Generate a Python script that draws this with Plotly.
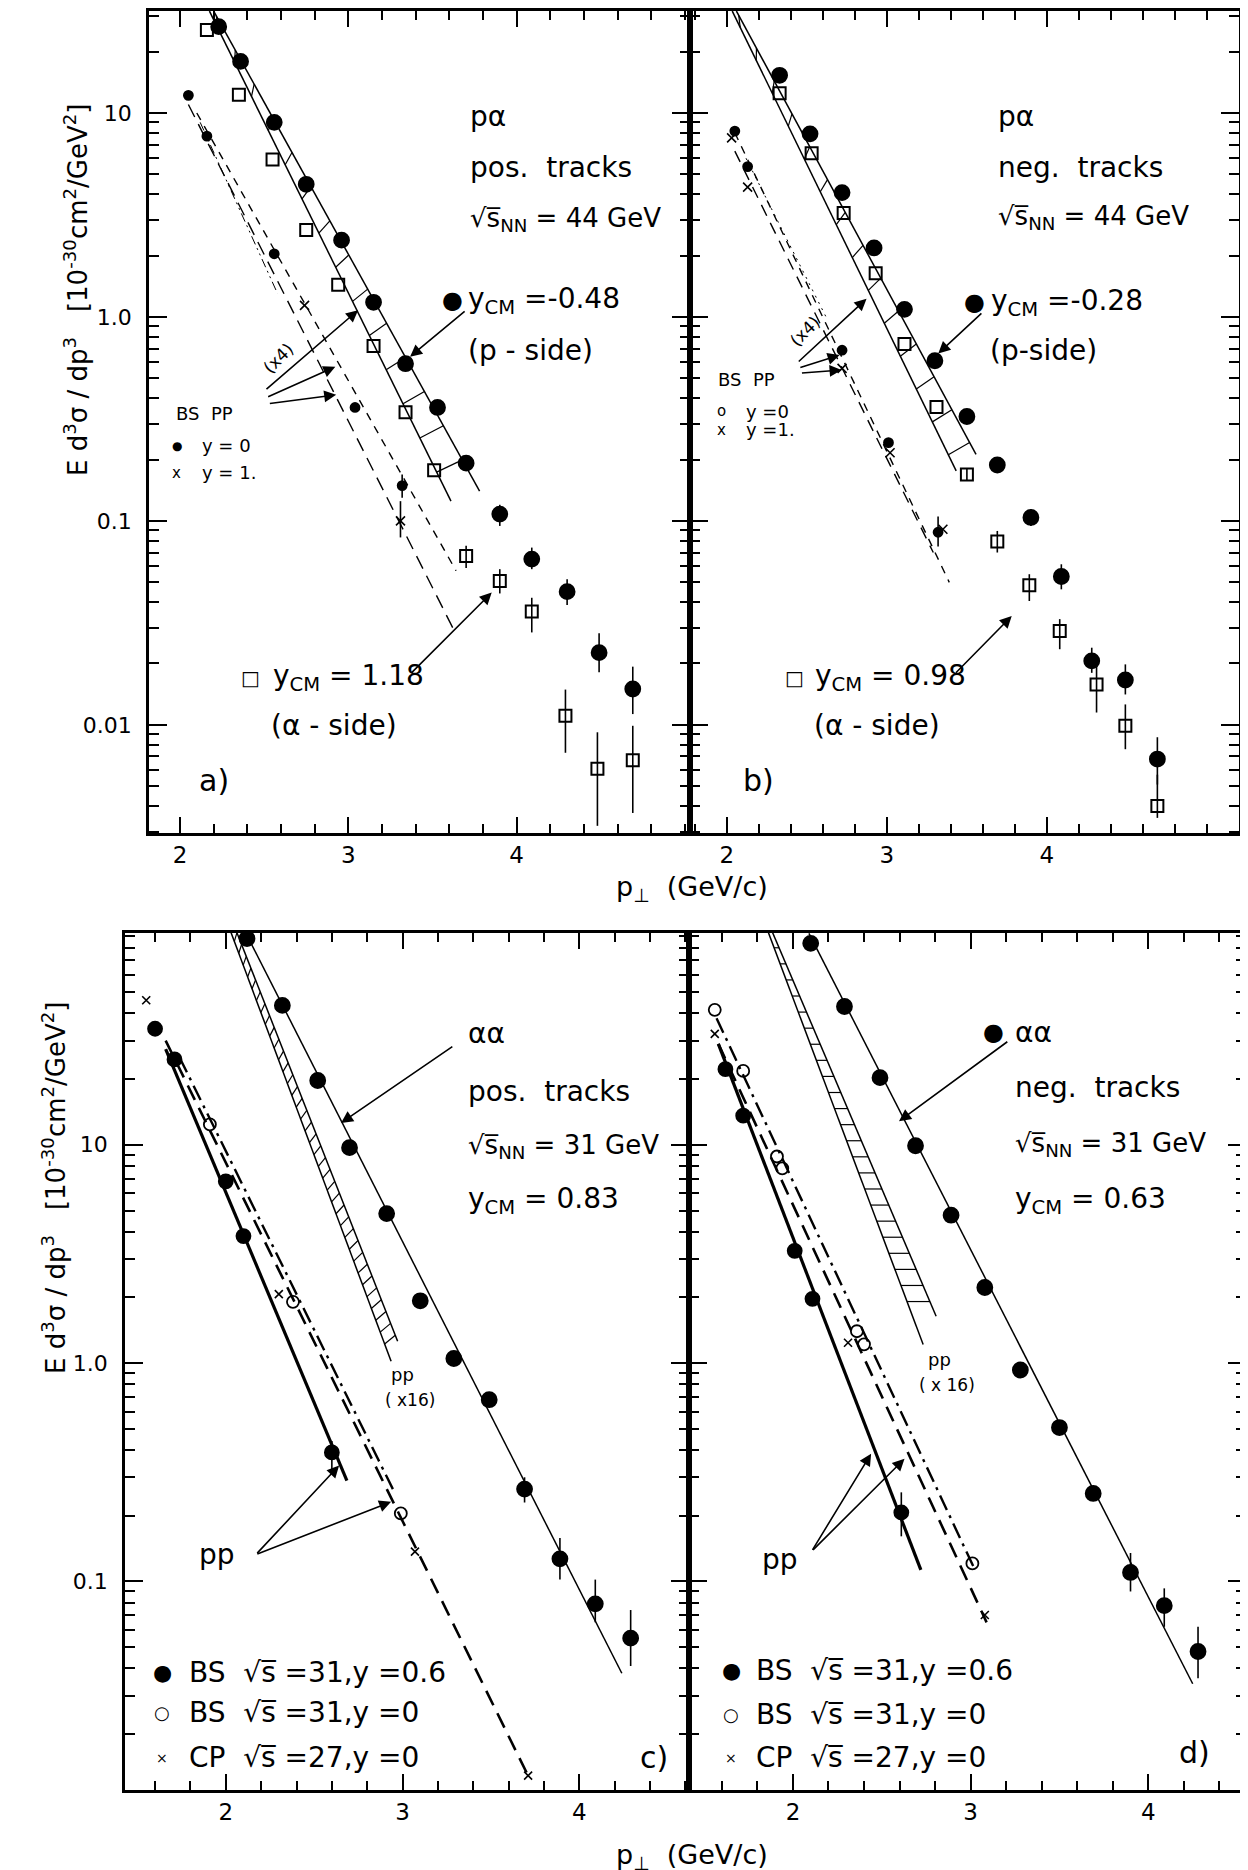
import math
import plotly.graph_objects as go

# ================= DATA =================
# ---- panel a : p-alpha, positive tracks, sqrt(s_NN)=44 GeV ----
a_pside_pt = [2.23, 2.36, 2.56, 2.75, 2.96, 3.15, 3.34, 3.53, 3.70, 3.90, 4.09, 4.30, 4.49, 4.69]
a_pside_y  = [26.5, 17.9, 9.0, 4.47, 2.38, 1.18, 0.59, 0.36, 0.192, 0.108, 0.065, 0.045, 0.0226, 0.0150]
a_pside_lo = [26.5, 17.9, 9.0, 4.47, 2.38, 1.18, 0.59, 0.36, 0.192, 0.0945, 0.058, 0.0387, 0.0181, 0.0113]
a_pside_hi = [26.5, 17.9, 9.0, 4.47, 2.38, 1.18, 0.59, 0.36, 0.192, 0.120, 0.074, 0.0518, 0.0281, 0.0193]

a_aside_pt = [2.16, 2.35, 2.55, 2.75, 2.94, 3.15, 3.34, 3.51, 3.70, 3.90, 4.09, 4.29, 4.48, 4.69]
a_aside_y  = [25.5, 12.3, 5.92, 2.67, 1.44, 0.72, 0.341, 0.177, 0.0673, 0.0508, 0.0360, 0.0111, 0.0061, 0.0067]
a_aside_lo = [25.5, 12.3, 5.92, 2.67, 1.44, 0.72, 0.341, 0.177, 0.0588, 0.0441, 0.0284, 0.0073, 0.0032, 0.0037]
a_aside_hi = [25.5, 12.3, 5.92, 2.67, 1.44, 0.72, 0.341, 0.177, 0.0755, 0.058, 0.042, 0.0149, 0.0092, 0.0099]

a_ppy0_pt = [2.05, 2.16, 2.56, 3.04, 3.32]
a_ppy0_y  = [12.2, 7.7, 2.04, 0.36, 0.149]
a_ppy0_lo = [12.2, 7.7, 2.04, 0.36, 0.130]
a_ppy0_hi = [12.2, 7.7, 2.04, 0.36, 0.169]
a_ppy1_pt = [2.74, 3.31]
a_ppy1_y  = [1.14, 0.100]
a_ppy1_lo = [1.14, 0.083]
a_ppy1_hi = [1.14, 0.125]

a_band_left_pt,  a_band_left_y  = [2.175, 3.61], [31.6, 0.125]
a_band_right_pt, a_band_right_y = [2.20, 3.78], [31.6, 0.140]
a_fit1_pt, a_fit1_y = [2.10, 3.64], [10.0, 0.057]
a_fit2_pt, a_fit2_y = [2.05, 3.62], [11.0, 0.030]
a_fit3_pt, a_fit3_y = [2.12, 2.58], [9.0, 1.3]

# ---- panel b : p-alpha, negative tracks, sqrt(s_NN)=44 GeV ----
b_pside_pt = [2.33, 2.52, 2.72, 2.92, 3.11, 3.30, 3.50, 3.69, 3.90, 4.09, 4.28, 4.49, 4.69]
b_pside_y  = [15.3, 7.9, 4.07, 2.18, 1.09, 0.61, 0.325, 0.188, 0.104, 0.0534, 0.0206, 0.0166, 0.0068]
b_pside_lo = [15.3, 7.9, 4.07, 2.18, 1.09, 0.61, 0.325, 0.188, 0.0945, 0.0462, 0.0180, 0.0141, 0.0051]
b_pside_hi = [15.3, 7.9, 4.07, 2.18, 1.09, 0.61, 0.325, 0.188, 0.114, 0.0613, 0.0239, 0.0198, 0.0087]

b_aside_pt = [2.33, 2.53, 2.73, 2.93, 3.11, 3.31, 3.50, 3.69, 3.89, 4.08, 4.31, 4.49, 4.69]
b_aside_y  = [12.5, 6.34, 3.23, 1.64, 0.736, 0.362, 0.169, 0.0792, 0.0484, 0.0289, 0.0158, 0.0099, 0.0040]
b_aside_lo = [12.5, 6.34, 3.23, 1.64, 0.736, 0.362, 0.158, 0.0700, 0.0405, 0.0235, 0.0115, 0.0076, 0.0035]
b_aside_hi = [12.5, 6.34, 3.23, 1.64, 0.736, 0.362, 0.181, 0.0893, 0.0548, 0.0330, 0.0195, 0.0126, 0.0057]

b_ppy0_pt = [2.05, 2.13, 2.72, 3.01, 3.32]
b_ppy0_y  = [8.15, 5.46, 0.687, 0.242, 0.088]
b_ppy0_lo = [8.15, 5.46, 0.687, 0.242, 0.075]
b_ppy0_hi = [8.15, 5.46, 0.687, 0.242, 0.105]
b_ppy1_pt = [2.03, 2.13, 2.72, 3.02, 3.35]
b_ppy1_y  = [7.55, 4.33, 0.56, 0.216, 0.091]

b_band_left_pt,  b_band_left_y  = [2.034, 3.433], [31.6, 0.176]
b_band_right_pt, b_band_right_y = [2.06, 3.557], [31.6, 0.212]
b_fit1_pt, b_fit1_y = [2.05, 3.39], [8.0, 0.050]
b_fit2_pt, b_fit2_y = [2.05, 3.29], [6.5, 0.070]
b_fit3_pt, b_fit3_y = [2.12, 2.62], [6.0, 1.0]

# ---- panel c : alpha-alpha, positive tracks, sqrt(s_NN)=31 GeV ----
c_aa_pt = [2.12, 2.32, 2.52, 2.70, 2.91, 3.10, 3.29, 3.49, 3.69, 3.89, 4.09, 4.29]
c_aa_y  = [88.0, 43.5, 19.7, 9.7, 4.84, 1.93, 1.05, 0.68, 0.265, 0.127, 0.079, 0.055]
c_aa_lo = [88.0, 43.5, 19.7, 9.7, 4.84, 1.93, 1.05, 0.68, 0.23, 0.102, 0.065, 0.041]
c_aa_hi = [88.0, 43.5, 19.7, 9.7, 4.84, 1.93, 1.05, 0.68, 0.30, 0.158, 0.102, 0.074]
c_bs06_pt = [1.60, 1.71, 2.00, 2.10, 2.60]
c_bs06_y  = [34.0, 24.6, 6.8, 3.82, 0.39]
c_bs06_lo = [34.0, 24.6, 6.8, 3.82, 0.32]
c_bs06_hi = [34.0, 24.6, 6.8, 3.82, 0.44]
c_bs0_pt = [1.91, 2.38, 2.99]
c_bs0_y  = [12.4, 1.91, 0.205]
c_cp_pt = [1.55, 2.30, 3.07, 3.71]
c_cp_y  = [45.9, 2.07, 0.137, 0.0129]

c_aafit_pt, c_aafit_y = [2.10, 4.24], [98.0, 0.038]
c_band_left_pt,  c_band_left_y  = [2.011, 2.935], [103.0, 1.02]
c_band_right_pt, c_band_right_y = [2.043, 2.972], [103.0, 1.26]
c_pp_solid_pt, c_pp_solid_y = [1.66, 2.685], [27.4, 0.29]
c_pp_dash_pt, c_pp_dash_y = [1.66, 3.71], [30.0, 0.0129]
c_pp_dd_pt, c_pp_dd_y = [1.74, 2.95], [25.0, 0.26]

# ---- panel d : alpha-alpha, negative tracks, sqrt(s_NN)=31 GeV ----
d_aa_pt = [2.10, 2.29, 2.49, 2.69, 2.89, 3.08, 3.28, 3.50, 3.69, 3.90, 4.09, 4.28]
d_aa_y  = [83.7, 43.0, 20.3, 9.9, 4.76, 2.22, 0.93, 0.507, 0.253, 0.110, 0.0775, 0.0478]
d_aa_lo = [83.7, 43.0, 20.3, 9.9, 4.76, 2.22, 0.93, 0.507, 0.253, 0.090, 0.062, 0.036]
d_aa_hi = [83.7, 43.0, 20.3, 9.9, 4.76, 2.22, 0.93, 0.507, 0.253, 0.135, 0.093, 0.062]
d_bs06_pt = [1.62, 1.72, 2.01, 2.11, 2.61]
d_bs06_y  = [22.2, 13.6, 3.27, 1.97, 0.207]
d_bs06_lo = [22.2, 13.6, 3.27, 1.97, 0.161]
d_bs06_hi = [22.2, 13.6, 3.27, 1.97, 0.256]
d_bs0_pt = [1.56, 1.72, 1.91, 1.94, 2.36, 2.40, 3.01]
d_bs0_y  = [41.5, 21.8, 8.84, 7.8, 1.40, 1.22, 0.121]
d_cp_pt = [1.56, 2.31, 3.08]
d_cp_y  = [32.2, 1.24, 0.0702]

d_aafit_pt, d_aafit_y = [2.09, 4.25], [93.0, 0.034]
d_band_left_pt,  d_band_left_y  = [1.843, 2.733], [103.0, 1.216]
d_band_right_pt, d_band_right_y = [1.864, 2.806], [103.0, 1.64]
d_pp_solid_pt, d_pp_solid_y = [1.58, 2.72], [29.0, 0.113]
d_pp_dash_pt, d_pp_dash_y = [1.58, 3.09], [29.0, 0.065]
d_pp_dd_pt, d_pp_dd_y = [1.57, 3.02], [38.0, 0.115]

# tick labels
x_tickvals = [2, 3, 4]
x_ticktext = ["2", "3", "4"]
top_y_tickvals = [0.01, 0.1, 1, 10]
top_y_ticktext = ["0.01", "0.1", "1.0", "10"]
bot_y_tickvals = [0.1, 1, 10]
bot_y_ticktext = ["0.1", "1.0", "10"]

# ================= FIGURE =================
FONT = "DejaVu Sans"
W, H = 1248, 1870
BIG = 28
MID = 26
fig = go.Figure()


def errs(y, lo, hi):
    return [h - v for v, h in zip(y, hi)], [v - l for v, l in zip(y, lo)]


def pts(ax, pt, y, symbol, size, lo=None, hi=None, lw=1.8):
    kw = {}
    if lo is not None:
        plus, minus = errs(y, lo, hi)
        kw["error_y"] = dict(type="data", symmetric=False, array=plus, arrayminus=minus,
                             color="black", thickness=1.6, width=0)
    fig.add_trace(go.Scatter(x=pt, y=y, mode="markers", xaxis="x" + ax, yaxis="y" + ax,
                             marker=dict(symbol=symbol, size=size, color="black",
                                         line=dict(color="black", width=lw)),
                             hoverinfo="skip", **kw))


def line(ax, pt, y, width=1.5, dash="solid"):
    fig.add_trace(go.Scatter(x=pt, y=y, mode="lines", xaxis="x" + ax, yaxis="y" + ax,
                             line=dict(color="black", width=width, dash=dash), hoverinfo="skip"))


def band(ax, lpt, ly, rpt, ry, step, rise):
    line(ax, lpt, ly)
    line(ax, rpt, ry)
    l0, l1 = math.log10(ly[0]), math.log10(ly[1])
    r0, r1 = math.log10(ry[0]), math.log10(ry[1])
    xs, ys = [], []
    p = lpt[0] + step / 2
    while p < lpt[1]:
        lyv = l0 + (l1 - l0) * (p - lpt[0]) / (lpt[1] - lpt[0])
        ryv = lyv + rise
        pr = rpt[0] + (rpt[1] - rpt[0]) * (ryv - r0) / (r1 - r0)
        if rpt[0] <= pr <= rpt[1]:
            xs += [p, pr, None]
            ys += [10 ** lyv, 10 ** ryv, None]
        p += step
    fig.add_trace(go.Scatter(x=xs, y=ys, mode="lines", xaxis="x" + ax, yaxis="y" + ax,
                             line=dict(color="black", width=1.2), hoverinfo="skip"))


ann = []


def txt(ax, x, ly, text, size=BIG, xanchor="left", angle=0):
    ann.append(dict(xref="x" + ax, yref="y" + ax, x=x, y=ly, text=text, showarrow=False,
                    xanchor=xanchor, yanchor="middle", textangle=angle,
                    font=dict(family=FONT, size=size, color="black")))


def arrow(ax, tail, head):
    ann.append(dict(xref="x" + ax, yref="y" + ax, x=head[0], y=head[1], ax=tail[0], ay=tail[1],
                    axref="x" + ax, ayref="y" + ax, text="", showarrow=True, arrowhead=2,
                    arrowsize=1.5, arrowwidth=1.6, arrowcolor="black", standoff=0, startstandoff=0))


A, B, C, D = "", "2", "3", "4"
# --- panel a ---
band(A, a_band_left_pt, a_band_left_y, a_band_right_pt, a_band_right_y, 0.1, 0.06)
line(A, a_fit1_pt, a_fit1_y, 1.4, "8px,7px")
line(A, a_fit2_pt, a_fit2_y, 1.4, "14px,8px")
line(A, a_fit3_pt, a_fit3_y, 1.0, "9px,4px,2px,4px,2px,4px")
pts(A, a_pside_pt, a_pside_y, "circle", 15, a_pside_lo, a_pside_hi)
pts(A, a_aside_pt, a_aside_y, "square-open", 12, a_aside_lo, a_aside_hi, lw=2)
pts(A, a_ppy0_pt, a_ppy0_y, "circle", 9, a_ppy0_lo, a_ppy0_hi)
pts(A, a_ppy1_pt, a_ppy1_y, "x-thin-open", 9, a_ppy1_lo, a_ppy1_hi, lw=1.6)

# --- panel b ---
band(B, b_band_left_pt, b_band_left_y, b_band_right_pt, b_band_right_y, 0.1, 0.06)
line(B, b_fit1_pt, b_fit1_y, 1.4, "8px,7px")
line(B, b_fit2_pt, b_fit2_y, 1.4, "12px,8px")
line(B, b_fit3_pt, b_fit3_y, 1.0, "2px,5px")
pts(B, b_pside_pt, b_pside_y, "circle", 15, b_pside_lo, b_pside_hi)
pts(B, b_aside_pt, b_aside_y, "square-open", 12, b_aside_lo, b_aside_hi, lw=2)
pts(B, b_ppy0_pt, b_ppy0_y, "circle", 9, b_ppy0_lo, b_ppy0_hi)
pts(B, b_ppy1_pt, b_ppy1_y, "x-thin-open", 9, lw=1.6)

# --- panel c ---
band(C, c_band_left_pt, c_band_left_y, c_band_right_pt, c_band_right_y, 0.025, 0.04)
line(C, c_aafit_pt, c_aafit_y, 1.5)
line(C, c_pp_solid_pt, c_pp_solid_y, 3.2)
line(C, c_pp_dash_pt, c_pp_dash_y, 2.6, "16px,9px")
line(C, c_pp_dd_pt, c_pp_dd_y, 2.4, "16px,6px,3px,6px")
pts(C, c_aa_pt, c_aa_y, "circle", 15, c_aa_lo, c_aa_hi)
pts(C, c_bs06_pt, c_bs06_y, "circle", 14, c_bs06_lo, c_bs06_hi)
pts(C, c_bs0_pt, c_bs0_y, "circle-open", 12, lw=1.8)
pts(C, c_cp_pt, c_cp_y, "x-thin-open", 8, lw=1.6)

# --- panel d ---
band(D, d_band_left_pt, d_band_left_y, d_band_right_pt, d_band_right_y, 0.034, 0.0)
line(D, d_aafit_pt, d_aafit_y, 1.5)
line(D, d_pp_solid_pt, d_pp_solid_y, 3.2)
line(D, d_pp_dash_pt, d_pp_dash_y, 2.6, "16px,9px")
line(D, d_pp_dd_pt, d_pp_dd_y, 2.4, "16px,6px,3px,6px")
pts(D, d_aa_pt, d_aa_y, "circle", 15, d_aa_lo, d_aa_hi)
pts(D, d_bs06_pt, d_bs06_y, "circle", 14, d_bs06_lo, d_bs06_hi)
pts(D, d_bs0_pt, d_bs0_y, "circle-open", 12, lw=1.8)
pts(D, d_cp_pt, d_cp_y, "x-thin-open", 8, lw=1.6)

# ================= ANNOTATIONS =================
SQS = "√s\u0305"
# panel a
txt(A, 3.71, 0.984, "pα")
txt(A, 3.71, 0.732, "pos.  tracks")
txt(A, 3.71, 0.48, SQS + "<sub>NN</sub> = 44 GeV", MID)
txt(A, 3.62, 0.081, "●", 24, "center")
txt(A, 3.70, 0.081, "y<sub>CM</sub> =-0.48")
txt(A, 3.70, -0.163, "(p - side)")
arrow(A, (3.70, 0.033), (3.367, -0.195))
txt(A, 2.585, -0.2, "(x4)", 17, "center", -45)
txt(A, 1.965, -0.472, "BS  PP", 18)
txt(A, 1.98, -0.632, "●", 12, "center")
txt(A, 2.12, -0.632, "y = 0", 18)
txt(A, 1.98, -0.763, "x", 15, "center")
txt(A, 2.12, -0.763, "y = 1.", 18)
arrow(A, (2.505, -0.36), (3.058, 0.033))
arrow(A, (2.515, -0.395), (2.923, -0.244))
arrow(A, (2.525, -0.425), (2.928, -0.382))
txt(A, 2.421, -1.768, "□", 20, "center")
txt(A, 2.54, -1.768, "y<sub>CM</sub> = 1.18")
txt(A, 2.53, -2.005, "(α - side)")
arrow(A, (3.366, -1.752), (3.852, -1.351))
txt(A, 2.2, -2.275, "a)", 30, "center")

# panel b
txt(B, 3.68, 0.984, "pα")
txt(B, 3.68, 0.732, "neg.  tracks")
txt(B, 3.68, 0.488, SQS + "<sub>NN</sub> = 44 GeV", MID)
txt(B, 3.545, 0.073, "●", 24, "center")
txt(B, 3.64, 0.073, "y<sub>CM</sub> =-0.28")
txt(B, 3.63, -0.163, "(p-side)")
arrow(B, (3.60, 0.024), (3.321, -0.179))
txt(B, 2.49, -0.07, "(x4)", 17, "center", -45)
txt(B, 1.93, -0.309, "BS  PP", 18)
txt(B, 1.966, -0.463, "o", 15, "center")
txt(B, 2.11, -0.463, "y =0", 18)
txt(B, 1.966, -0.553, "x", 15, "center")
txt(B, 2.11, -0.553, "y =1.", 18)
arrow(B, (2.44, -0.225), (2.873, 0.089))
arrow(B, (2.45, -0.25), (2.705, -0.187))
arrow(B, (2.46, -0.275), (2.717, -0.26))
txt(B, 2.426, -1.768, "□", 20, "center")
txt(B, 2.54, -1.768, "y<sub>CM</sub> = 0.98")
txt(B, 2.53, -2.005, "(α - side)")
arrow(B, (3.422, -1.752), (3.78, -1.466))
txt(B, 2.2, -2.275, "b)", 30, "center")

# panel c
txt(C, 3.36, 1.508, "αα")
arrow(C, (3.29, 1.454), (2.652, 1.1))
txt(C, 3.36, 1.246, "pos.  tracks")
txt(C, 3.36, 0.992, SQS + "<sub>NN</sub> = 31 GeV", MID)
txt(C, 3.36, 0.746, "y<sub>CM</sub> = 0.83")
txt(C, 3.0, -0.054, "pp", 18, "center")
txt(C, 3.04, -0.169, "( x16)", 17, "center")
txt(C, 1.95, -0.877, "pp", BIG, "center")
arrow(C, (2.17, -0.877), (2.641, -0.469))
arrow(C, (2.17, -0.877), (2.935, -0.635))
txt(C, 1.64, -1.415, "●", 22, "center")
txt(C, 1.78, -1.415, "BS  " + SQS + " =31,y =0.6")
txt(C, 1.64, -1.6, "○", 18, "center")
txt(C, 1.78, -1.6, "BS  " + SQS + " =31,y =0")
txt(C, 1.64, -1.808, "×", 14, "center")
txt(C, 1.78, -1.808, "CP  " + SQS + " =27,y =0")
txt(C, 4.424, -1.808, "c)", 30, "center")

# panel d
txt(D, 3.131, 1.515, "●", 24, "center")
txt(D, 3.24, 1.515, "αα")
arrow(D, (3.215, 1.477), (2.597, 1.108))
txt(D, 3.24, 1.262, "neg.  tracks")
txt(D, 3.24, 1.0, SQS + "<sub>NN</sub> = 31 GeV", MID)
txt(D, 3.24, 0.746, "y<sub>CM</sub> = 0.63")
txt(D, 2.827, 0.015, "pp", 18, "center")
txt(D, 2.869, -0.1, "( x 16)", 17, "center")
txt(D, 1.927, -0.9, "pp", BIG, "center")
arrow(D, (2.105, -0.862), (2.44, -0.415))
arrow(D, (2.105, -0.862), (2.628, -0.438))
txt(D, 1.654, -1.408, "●", 22, "center")
txt(D, 1.78, -1.408, "BS  " + SQS + " =31,y =0.6")
txt(D, 1.654, -1.608, "○", 18, "center")
txt(D, 1.78, -1.608, "BS  " + SQS + " =31,y =0")
txt(D, 1.654, -1.808, "×", 14, "center")
txt(D, 1.78, -1.808, "CP  " + SQS + " =27,y =0")
txt(D, 4.26, -1.785, "d)", 30, "center")

# axis titles (paper)
ytitle = "E d<sup>3</sup>σ / dp<sup>3</sup>   [10<sup>-30</sup>cm<sup>2</sup>/GeV<sup>2</sup>]"
for (xp, yp) in [(68, 282), (46, 1180)]:
    ann.append(dict(xref="paper", yref="paper", x=xp / W, y=1 - yp / H, text=ytitle,
                    showarrow=False, textangle=-90, xanchor="center", yanchor="middle",
                    font=dict(family=FONT, size=26, color="black")))
for (xp, yp) in [(684, 880), (684, 1848)]:
    ann.append(dict(xref="paper", yref="paper", x=xp / W, y=1 - yp / H,
                    text="p<sub>⊥</sub>  (GeV/c)", showarrow=False, xanchor="center",
                    yanchor="middle", font=dict(family=FONT, size=27, color="black")))


# ================= AXES =================
def minor_log(lo, hi):
    return [k * 10.0 ** d for d in range(lo, hi + 1) for k in range(2, 10)]


def xax(dom, rng, anchor, labels=True):
    return dict(domain=dom, range=rng, anchor=anchor, showline=True, linewidth=2.5,
                linecolor="black", mirror="allticks", ticks="inside", ticklen=16, tickwidth=2,
                tickcolor="black", tickvals=x_tickvals, ticktext=x_ticktext,
                showticklabels=labels, showgrid=False, zeroline=False, ticklabelstandoff=0,
                tickfont=dict(family=FONT, size=23, color="black"),
                minor=dict(tickmode="linear", tick0=0, dtick=0.2, ticks="inside", ticklen=9,
                           tickwidth=1.6, tickcolor="black", showgrid=False))


def yax(dom, rng, anchor, tv, tt, labels, standoff):
    return dict(domain=dom, range=rng, anchor=anchor, type="log", showline=True, linewidth=2.5,
                linecolor="black", mirror="allticks", ticks="inside", ticklen=18, tickwidth=2,
                tickcolor="black", tickvals=tv, ticktext=tt, showticklabels=labels,
                showgrid=False, zeroline=False, ticklabelstandoff=standoff,
                tickfont=dict(family=FONT, size=22, color="black"),
                minor=dict(tickmode="array", tickvals=minor_log(-3, 2), ticks="inside",
                           ticklen=10, tickwidth=1.6, tickcolor="black", showgrid=False))


top_dom = [1 - 825 / H, 1 - 3 / H]
bot_dom = [1 - 1782 / H, 1 - 925 / H]
top_rng = [-2.53, 1.50]
bot_rng = [-1.955, 1.97]

fig.update_layout(
    width=W, height=H, margin=dict(l=0, r=0, t=0, b=0),
    paper_bgcolor="white", plot_bgcolor="white", showlegend=False,
    font=dict(family=FONT, color="black"),
    xaxis=xax([141 / W, 682 / W], [1.816, 5.03], "y"),
    yaxis=yax(top_dom, top_rng, "x", top_y_tickvals, top_y_ticktext, True, 10),
    xaxis2=xax([682 / W, 1231 / W], [1.77, 5.2], "y2"),
    yaxis2=yax(top_dom, top_rng, "x2", top_y_tickvals, top_y_ticktext, False, 10),
    xaxis3=xax([117 / W, 681 / W], [1.43, 4.62], "y3"),
    yaxis3=yax(bot_dom, bot_rng, "x3", bot_y_tickvals, bot_y_ticktext, True, 10),
    xaxis4=xax([681 / W, 1238 / W], [1.415, 4.55], "y4"),
    yaxis4=yax(bot_dom, bot_rng, "x4", bot_y_tickvals, bot_y_ticktext, False, 10),
    annotations=ann,
)

fig.write_html("out.html")
